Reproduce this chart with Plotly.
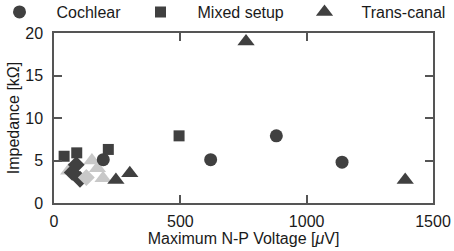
import plotly.graph_objects as go

# Data
cochlear_x = [195, 620, 880, 1140]
cochlear_y = [5.1, 5.1, 7.9, 4.8]
mixed_x = [40, 90, 215, 495]
mixed_y = [5.5, 5.9, 6.3, 7.9]
trans_x = [245, 300, 760, 1390]
trans_y = [2.7, 3.5, 19.0, 2.7]
light_tri_x = [58, 150, 172, 194]
light_tri_y = [3.8, 5.0, 4.1, 2.9]
dark_dia_x = [103, 72, 88]
dark_dia_y = [2.8, 3.6, 4.5]
light_dia_x = [128]
light_dia_y = [3.0]

DARK = "#404040"
LIGHT = "#c8c8c8"
TEXT = "#1a1a1a"
FONT = "Liberation Sans, Arial, sans-serif"
FS = 16
W, H = 454, 251
ML, MR, MT, MB = 54, 21, 33, 48
PW, PH = W - ML - MR, H - MT - MB

fig = go.Figure()
fig.add_trace(go.Scatter(x=light_tri_x, y=light_tri_y, mode="markers", showlegend=False,
                         marker=dict(symbol="triangle-up", size=15, color=LIGHT)))
fig.add_trace(go.Scatter(x=dark_dia_x, y=dark_dia_y, mode="markers", showlegend=False,
                         marker=dict(symbol="diamond", size=13, color=DARK)))
fig.add_trace(go.Scatter(x=light_dia_x, y=light_dia_y, mode="markers", showlegend=False,
                         marker=dict(symbol="diamond", size=13, color=LIGHT)))
fig.add_trace(go.Scatter(x=cochlear_x, y=cochlear_y, mode="markers", name="Cochlear",
                         legend="legend",
                         marker=dict(symbol="circle", size=13, color=DARK)))
fig.add_trace(go.Scatter(x=mixed_x, y=mixed_y, mode="markers", name="Mixed setup",
                         legend="legend2",
                         marker=dict(symbol="square", size=11, color=DARK)))
fig.add_trace(go.Scatter(x=trans_x, y=trans_y, mode="markers", name="Trans-canal",
                         legend="legend3",
                         marker=dict(symbol="triangle-up", size=15, color=DARK)))

axis_common = dict(showline=True, linecolor="#555555", linewidth=1.5, mirror="ticks",
                   ticks="inside", ticklen=8, tickwidth=1.5, tickcolor="#555555",
                   showgrid=False, zeroline=False, automargin=False,
                   tickfont=dict(family=FONT, size=FS, color=TEXT))


def leg(px):
    # px: left edge of the legend box in page pixels; top edge just above the page
    return dict(x=(px - ML) / PW, xref="paper", xanchor="left",
                y=(H - MB + 5) / PH, yref="paper", yanchor="top",
                orientation="h", itemwidth=64,
                font=dict(family=FONT, size=FS, color=TEXT), bgcolor="rgba(0,0,0,0)")


fig.update_layout(
    width=W, height=H,
    margin=dict(l=ML, r=MR, t=MT, b=MB, autoexpand=False),
    paper_bgcolor="white", plot_bgcolor="white",
    font=dict(family=FONT, size=FS, color=TEXT),
    showlegend=True,
    legend=leg(-17.5), legend2=leg(123.5), legend3=leg(287.5),
    xaxis=dict(range=[0, 1500], tickvals=[0, 500, 1000, 1500], ticklabelstandoff=3,
               title=dict(text="Maximum N-P Voltage [<i>μ</i>V]", standoff=0,
                          font=dict(family=FONT, size=FS, color=TEXT)),
               **axis_common),
    yaxis=dict(range=[0, 20], tickvals=[0, 5, 10, 15, 20], ticklabelstandoff=6,
               title=dict(text="Impedance [kΩ]", standoff=2,
                          font=dict(family=FONT, size=FS, color=TEXT)),
               **axis_common),
)
fig.write_html("out.html", config={"displayModeBar": False})

# remove the browser's default page margin so the figure sits at the window origin
with open("out.html", encoding="utf-8") as f:
    html = f.read()
html = html.replace("<head>", "<head><style>html,body{margin:0;padding:0;overflow:hidden;}</style>", 1)
with open("out.html", "w", encoding="utf-8") as f:
    f.write(html)
